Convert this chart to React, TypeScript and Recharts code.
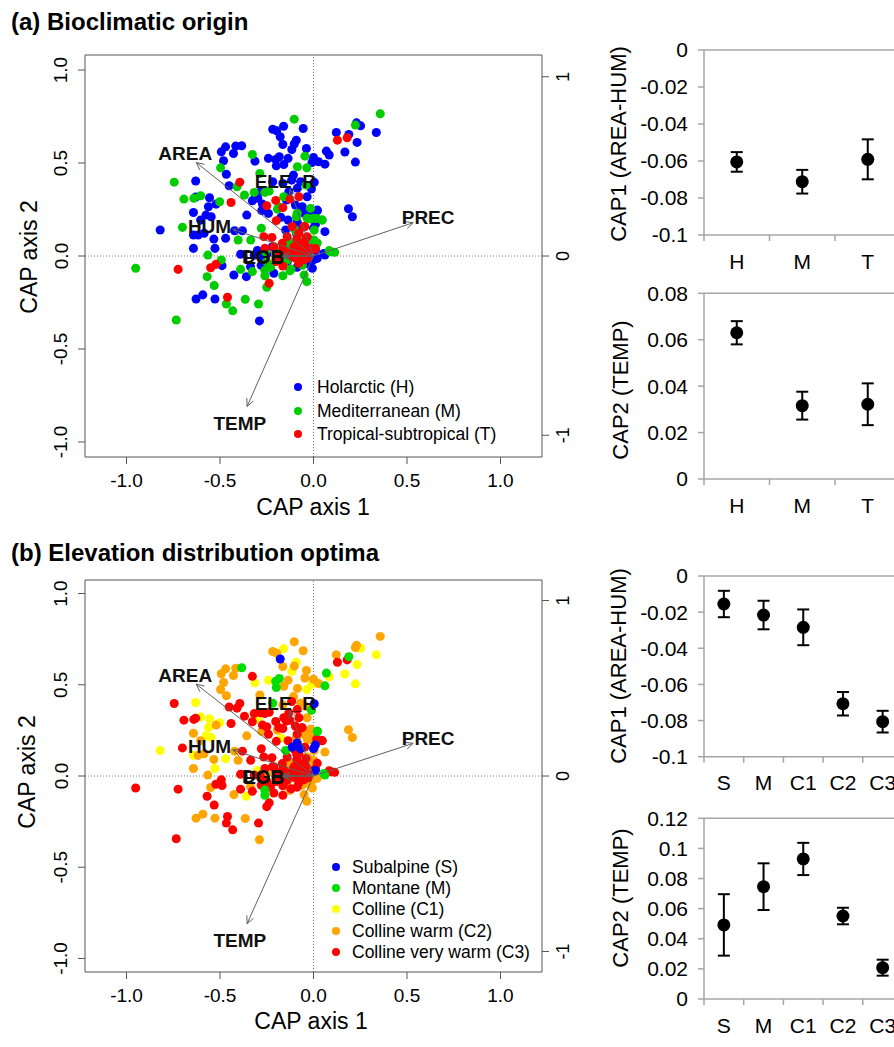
import React from 'react';
import { ScatterChart, Scatter, XAxis, YAxis, ReferenceLine, ErrorBar } from 'recharts';

const FONT = 'Arial, "Liberation Sans", Helvetica, sans-serif';
const BOX = '#555';
const PANEL_GRAY = '#a6a6a6';

// species scores on the two CAP axes: [CAP1, CAP2, bioclimatic origin, elevation optimum]
const SPECIES: [number, number, string, string][] = [
  [0.357, 0.765, 'M', 'C2'], [-0.103, 0.736, 'M', 'C2'], [0.224, 0.704, 'M', 'C2'], [0.23, 0.716, 'H', 'C2'],
  [0.252, 0.7, 'H', 'C1'], [0.336, 0.664, 'H', 'C1'], [0.122, 0.664, 'H', 'C2'], [0.128, 0.623, 'T', 'C3'],
  [0.18, 0.636, 'T', 'C3'], [0.189, 0.654, 'H', 'M'], [0.233, 0.611, 'H', 'C1'], [0.168, 0.559, 'H', 'C1'],
  [0.224, 0.505, 'H', 'C1'], [0.187, 0.254, 'H', 'C2'], [0.208, 0.211, 'H', 'C2'], [-0.218, 0.682, 'H', 'C2'],
  [-0.197, 0.673, 'H', 'C2'], [-0.16, 0.698, 'H', 'C1'], [-0.055, 0.686, 'H', 'C2'], [-0.178, 0.641, 'H', 'S'],
  [-0.164, 0.6, 'H', 'C2'], [-0.092, 0.623, 'H', 'C1'], [-0.103, 0.602, 'H', 'C2'], [-0.116, 0.573, 'H', 'C1'],
  [-0.038, 0.578, 'H', 'C2'], [-0.046, 0.537, 'M', 'C2'], [-0.241, 0.525, 'H', 'C1'], [-0.202, 0.519, 'H', 'M'],
  [-0.183, 0.534, 'H', 'M'], [-0.159, 0.492, 'H', 'C2'], [-0.199, 0.485, 'H', 'M'], [-0.136, 0.525, 'H', 'C2'],
  [-0.47, 0.587, 'H', 'C2'], [-0.416, 0.591, 'H', 'C2'], [-0.384, 0.593, 'H', 'M'], [-0.428, 0.551, 'H', 'C2'],
  [-0.493, 0.56, 'H', 'C2'], [-0.481, 0.512, 'H', 'C2'], [-0.327, 0.546, 'M', 'C3'], [-0.313, 0.51, 'H', 'C1'],
  [-0.287, 0.444, 'M', 'C2'], [0.069, 0.564, 'H', 'M'], [0.084, 0.543, 'H', 'C1'], [0.061, 0.494, 'H', 'M'],
  [0.027, 0.507, 'H', 'C2'], [-0.008, 0.503, 'H', 'C1'], [0.0, 0.53, 'H', 'C2'], [-0.086, 0.48, 'M', 'C2'],
  [-0.036, 0.474, 'M', 'C1'], [-0.497, 0.474, 'M', 'C2'], [-0.466, 0.44, 'H', 'C2'], [-0.63, 0.403, 'H', 'C1'],
  [-0.745, 0.397, 'M', 'C3'], [-0.394, 0.397, 'T', 'C3'], [-0.451, 0.378, 'H', 'C3'], [-0.409, 0.372, 'M', 'C3'],
  [-0.369, 0.328, 'M', 'C3'], [-0.317, 0.342, 'M', 'C3'], [-0.311, 0.319, 'H', 'C1'], [-0.283, 0.346, 'H', 'C3'],
  [-0.26, 0.342, 'M', 'C3'], [-0.237, 0.349, 'M', 'C3'], [-0.218, 0.399, 'H', 'M'], [-0.164, 0.39, 'H', 'C2'],
  [-0.117, 0.408, 'H', 'C3'], [-0.069, 0.399, 'H', 'C2'], [-0.107, 0.435, 'H', 'C2'], [-0.04, 0.381, 'M', 'C2'],
  [-0.011, 0.36, 'H', 'M'], [-0.078, 0.319, 'T', 'C3'], [-0.126, 0.306, 'T', 'C3'], [-0.202, 0.299, 'T', 'C3'],
  [-0.25, 0.27, 'T', 'C3'], [-0.164, 0.26, 'T', 'C3'], [-0.441, 0.288, 'T', 'C3'], [-0.604, 0.324, 'M', 'C1'],
  [-0.64, 0.31, 'M', 'C3'], [-0.693, 0.306, 'M', 'C3'], [-0.63, 0.317, 'H', 'C3'], [-0.556, 0.313, 'H', 'C1'],
  [-0.502, 0.292, 'M', 'C1'], [-0.562, 0.265, 'H', 'C1'], [-0.521, 0.279, 'H', 'C2'], [-0.642, 0.234, 'H', 'C2'],
  [-0.575, 0.22, 'H', 'C1'], [-0.547, 0.211, 'H', 'C1'], [-0.604, 0.193, 'H', 'C2'], [-0.327, 0.297, 'H', 'C3'],
  [-0.298, 0.31, 'H', 'C1'], [-0.273, 0.279, 'H', 'C3'], [-0.277, 0.244, 'H', 'C2'], [-0.241, 0.229, 'H', 'C3'],
  [-0.193, 0.252, 'M', 'C2'], [-0.145, 0.301, 'H', 'C3'], [-0.097, 0.274, 'H', 'C3'], [-0.05, 0.229, 'H', 'C2'],
  [-0.011, 0.238, 'H', 'C2'], [0.021, 0.244, 'H', 'M'], [-0.017, 0.199, 'M', 'C2'], [0.017, 0.202, 'M', 'C3'],
  [0.046, 0.193, 'M', 'C3'], [-0.357, 0.22, 'H', 'C2'], [-0.199, 0.19, 'T', 'C3'], [-0.174, 0.208, 'H', 'C1'],
  [-0.136, 0.193, 'H', 'C3'], [-0.092, 0.211, 'M', 'C2'], [-0.82, 0.14, 'H', 'C1'], [-0.701, 0.154, 'M', 'C3'],
  [-0.642, 0.113, 'H', 'C1'], [-0.617, 0.113, 'H', 'C2'], [-0.585, 0.122, 'H', 'C2'], [-0.533, 0.091, 'H', 'C2'],
  [-0.47, 0.095, 'H', 'C1'], [-0.422, 0.136, 'H', 'C2'], [-0.38, 0.136, 'H', 'C3'], [-0.403, 0.086, 'M', 'C2'],
  [-0.336, 0.086, 'M', 'C3'], [-0.279, 0.149, 'M', 'C3'], [-0.266, 0.104, 'T', 'C3'], [-0.222, 0.1, 'T', 'C3'],
  [-0.149, 0.14, 'H', 'M'], [-0.101, 0.143, 'M', 'C3'], [-0.078, 0.122, 'T', 'C3'], [-0.046, 0.158, 'T', 'C3'],
  [-0.04, 0.095, 'T', 'C3'], [0.004, 0.14, 'M', 'C2'], [0.061, 0.131, 'H', 'C2'], [-0.642, 0.041, 'H', 'C2'],
  [-0.527, 0.041, 'H', 'C1'], [-0.565, 0.005, 'M', 'C2'], [-0.39, 0.009, 'H', 'C3'], [-0.317, 0.005, 'H', 'C3'],
  [-0.26, 0.041, 'T', 'C3'], [-0.164, 0.041, 'T', 'C3'], [-0.117, 0.05, 'M', 'C2'], [-0.05, 0.068, 'T', 'C3'],
  [0.008, 0.036, 'T', 'C3'], [0.061, 0.005, 'H', 'M'], [0.113, 0.02, 'M', 'C3'], [0.084, 0.029, 'M', 'C3'],
  [-0.951, -0.066, 'M', 'C3'], [-0.724, -0.072, 'T', 'C3'], [-0.55, -0.063, 'T', 'C2'], [-0.522, -0.045, 'T', 'C3'],
  [-0.489, -0.052, 'H', 'C3'], [-0.569, -0.111, 'M', 'C3'], [-0.531, -0.159, 'M', 'C3'], [-0.493, -0.021, 'M', 'C3'],
  [-0.426, -0.102, 'H', 'C2'], [-0.39, -0.072, 'M', 'C3'], [-0.359, -0.111, 'H', 'C1'], [-0.327, -0.084, 'M', 'C3'],
  [-0.26, -0.106, 'M', 'M'], [-0.212, -0.093, 'H', 'C3'], [-0.164, -0.054, 'T', 'C3'], [-0.164, -0.106, 'M', 'C3'],
  [-0.126, -0.079, 'M', 'C2'], [-0.088, -0.061, 'H', 'C3'], [-0.05, -0.102, 'M', 'C2'], [-0.006, -0.066, 'H', 'C2'],
  [-0.036, -0.138, 'M', 'C2'], [-0.25, -0.168, 'M', 'C3'], [-0.237, -0.147, 'T', 'C3'], [-0.628, -0.231, 'H', 'C2'],
  [-0.592, -0.209, 'H', 'C2'], [-0.527, -0.231, 'H', 'C2'], [-0.46, -0.222, 'T', 'C3'], [-0.466, -0.258, 'M', 'C3'],
  [-0.432, -0.295, 'M', 'C3'], [-0.365, -0.233, 'M', 'C2'], [-0.294, -0.258, 'M', 'C3'], [-0.289, -0.349, 'H', 'C2'],
  [-0.734, -0.344, 'M', 'C3'],
  // dense cluster around the origin
  [-0.07, 0.15, 'H', 'S'], [0.0, 0.15, 'H', 'S'], [0.01, 0.17, 'H', 'S'], [0.01, 0.03, 'H', 'S'],
  [-0.088, 0.181, 'H', 'S'], [0.004, 0.396, 'H', 'S'], [-0.26, -0.077, 'M', 'M'],
  [-0.15, 0.02, 'T', 'C3'], [-0.12, 0.0, 'T', 'C3'], [-0.1, -0.01, 'T', 'C3'], [-0.08, 0.02, 'T', 'C3'],
  [-0.06, 0.0, 'T', 'C3'], [-0.05, -0.02, 'T', 'C3'], [-0.03, 0.01, 'T', 'C3'], [-0.02, 0.03, 'T', 'C2'],
  [-0.04, 0.05, 'T', 'C3'], [-0.07, 0.06, 'T', 'C3'], [0.01, 0.04, 'T', 'C3'], [-0.09, 0.09, 'T', 'C3'],
  [-0.2, -0.03, 'T', 'C3'], [-0.18, 0.0, 'T', 'C3'], [-0.11, 0.03, 'T', 'C3'], [-0.03, -0.01, 'T', 'C3'],
  [-0.2, 0.02, 'M', 'C3'], [-0.13, 0.07, 'M', 'C2'], [-0.1, 0.04, 'M', 'C3'], [-0.05, 0.08, 'M', 'C2'],
  [-0.02, 0.09, 'M', 'C2'], [0.02, 0.07, 'M', 'C3'], [-0.25, -0.03, 'M', 'C3'], [-0.16, -0.04, 'M', 'C3'],
  [-0.06, -0.05, 'M', 'C2'], [-0.12, -0.07, 'M', 'C3'], [-0.23, -0.06, 'M', 'C3'],
  [-0.28, -0.05, 'H', 'C3'], [-0.22, 0.05, 'H', 'C3'], [-0.14, -0.03, 'H', 'C2'], [-0.03, -0.04, 'H', 'C2'],
  [0.0, -0.02, 'H', 'C2'], [-0.09, 0.12, 'H', 'C3'], [-0.25, 0.01, 'H', 'C2'], [-0.3, 0.03, 'H', 'C1'],
  [-0.132, 0.346, 'H', 'C3'], [-0.087, 0.364, 'H', 'C3'], [-0.034, 0.319, 'H', 'C2'], [-0.06, 0.265, 'H', 'C3'],
  [-0.016, 0.256, 'M', 'C2'], [0.02, 0.247, 'H', 'M'], [-0.159, 0.319, 'M', 'C3'], [-0.186, 0.265, 'M', 'C3'],
  [-0.087, 0.23, 'M', 'C3'], [-0.034, 0.203, 'M', 'C2'], [0.002, 0.203, 'M', 'C2'], [0.046, 0.194, 'M', 'C3'],
  [-0.114, 0.158, 'T', 'S'], [-0.052, 0.158, 'T', 'C2'], [-0.087, 0.122, 'M', 'C3'], [-0.034, 0.104, 'T', 'C2'],
  [0.002, 0.086, 'M', 'C2'], [-0.141, 0.104, 'T', 'C3'], [-0.167, 0.068, 'T', 'C3'], [-0.105, 0.05, 'T', 'C3'],
  [-0.052, 0.032, 'T', 'C3'], [-0.016, 0.041, 'T', 'C2'], [0.055, 0.014, 'H', 'M'], [0.091, 0.023, 'M', 'C3'],
  [-0.212, 0.05, 'T', 'C3'], [-0.257, 0.023, 'M', 'C2'], [-0.283, -0.004, 'H', 'C3'], [-0.186, -0.004, 'T', 'C3'],
  [-0.141, -0.022, 'M', 'C3'], [-0.079, -0.039, 'T', 'C3'], [-0.034, -0.004, 'T', 'C3'], [0.02, -0.013, 'H', 'C2'],
  [-0.337, -0.057, 'H', 'C2'], [-0.239, -0.057, 'M', 'C3'],
];

const ORIGIN_GROUPS = [
  { key: 'H', label: 'Holarctic (H)', color: '#0000ff' },
  { key: 'M', label: 'Mediterranean (M)', color: '#00cc00' },
  { key: 'T', label: 'Tropical-subtropical (T)', color: '#ff0000' },
];
const ELEV_GROUPS = [
  { key: 'S', label: 'Subalpine (S)', color: '#0000ff' },
  { key: 'M', label: 'Montane (M)', color: '#00dd00' },
  { key: 'C1', label: 'Colline (C1)', color: '#ffff00' },
  { key: 'C2', label: 'Colline warm (C2)', color: '#ffa500' },
  { key: 'C3', label: 'Colline very warm (C3)', color: '#ff0000' },
];
const ELEV_DRAW_ORDER = ['C1', 'C2', 'C3', 'M', 'S'];

// environmental vectors: arrow tip and label centre
const VECTORS = [
  { name: 'AREA', x: -0.627, y: 0.503, lx: -0.686, ly: 0.551 },
  { name: 'ELE_R', x: -0.126, y: 0.358, lx: -0.151, ly: 0.399 },
  { name: 'HUM', x: -0.432, y: 0.143, lx: -0.556, ly: 0.161 },
  { name: 'PREC', x: 0.533, y: 0.179, lx: 0.613, ly: 0.208 },
  { name: 'TEMP', x: -0.355, y: -0.809, lx: -0.394, ly: -0.899 },
  { name: 'DGB', x: -0.165, y: 0.004, lx: -0.27, ly: -0.004 },
  { name: 'EOB', x: -0.165, y: -0.004, lx: -0.266, ly: -0.007 },
];

const X_TICKS = [-1, -0.5, 0, 0.5, 1];
const Y_TICKS = [-1, -0.5, 0, 0.5, 1];
const SEC_TICKS = [-1, 0, 1];

const ORIGIN_CATS = ['H', 'M', 'T'];
const CAP1_ORIGIN = [-0.0605, -0.0712, -0.0591];
const CAP1_ORIGIN_ERR = [0.0053, 0.0064, 0.0108];
const CAP2_ORIGIN = [0.063, 0.0316, 0.0322];
const CAP2_ORIGIN_ERR = [0.005, 0.006, 0.009];

const ELEV_CATS = ['S', 'M', 'C1', 'C2', 'C3'];
const CAP1_ELEV = [-0.0155, -0.0216, -0.0284, -0.0707, -0.0806];
const CAP1_ELEV_ERR = [0.0073, 0.0079, 0.0099, 0.0065, 0.006];
const CAP2_ELEV = [0.0492, 0.0746, 0.093, 0.0551, 0.0208];
const CAP2_ELEV_ERR = [0.0204, 0.0155, 0.0107, 0.0055, 0.0053];

const LeftTick = (p: any) => (
  <text x={p.x} y={p.y} transform={`rotate(-90 ${p.x} ${p.y})`} textAnchor="middle" dominantBaseline="central"
    fontSize={19} fontFamily={FONT} fill="#000">{Number(p.payload.value).toFixed(1)}</text>
);
const RightTick = (p: any) => (
  <text x={p.x} y={p.y} transform={`rotate(-90 ${p.x} ${p.y})`} textAnchor="middle" dominantBaseline="central"
    fontSize={18} fontFamily={FONT} fill="#000">{String(p.payload.value)}</text>
);
const BottomTick = (p: any) => (
  <text x={p.x} y={p.y} textAnchor="middle" dominantBaseline="central" fontSize={19} fontFamily={FONT} fill="#000">
    {Number(p.payload.value).toFixed(1)}
  </text>
);
const NoDot = () => <g />;
const VectorLabel = (p: any) => (
  <text x={p.cx} y={p.cy} textAnchor="middle" dominantBaseline="central" fontSize={19}
    fontWeight="bold" fontFamily={FONT} fill="#111">{p.payload.name}</text>
);

function arrowHead(x: number, y: number) {
  const a = Math.atan2(y, x);
  const len = 0.045;
  const [h1, h2] = [a + 0.45, a - 0.45].map((b) => ({ x: x - len * Math.cos(b), y: y - len * Math.sin(b) }));
  return [h1, { x, y }, h2];
}

function Biplot({ top, height, boxTop, boxBottom, yDom, ryDom, col, groups, order }: any) {
  const margin = { left: 25, right: 18, top: boxTop - top - 10, bottom: top + height - boxBottom - 40 };
  const ids = { xAxisId: 'b', yAxisId: 'l' };
  const arrowLine = { stroke: '#606060', strokeWidth: 1 };
  return (
    <div style={{ position: 'absolute', left: 0, top }}>
      <ScatterChart width={600} height={height} margin={margin}>
        <XAxis xAxisId="b" type="number" dataKey="x" domain={[-1.222, 1.222]} ticks={X_TICKS} interval={0}
          allowDataOverflow height={40} tickSize={7} tickMargin={16} stroke={BOX} tick={BottomTick} />
        <XAxis xAxisId="t" orientation="top" type="number" domain={[-1.27, 1.27]} ticks={SEC_TICKS} interval={0}
          allowDataOverflow height={10} tickSize={7} stroke={BOX} tick={() => <g />} />
        <YAxis yAxisId="l" type="number" dataKey="y" domain={yDom} ticks={Y_TICKS} interval={0}
          allowDataOverflow width={60} tickSize={7} tickMargin={17} stroke={BOX} tick={LeftTick} />
        <YAxis yAxisId="r" orientation="right" type="number" domain={ryDom} ticks={SEC_TICKS} interval={0}
          allowDataOverflow width={40} tickSize={7} tickMargin={14} stroke={BOX} tick={RightTick} />
        <ReferenceLine {...ids} x={0} stroke="#777" strokeDasharray="1 2" />
        <ReferenceLine {...ids} y={0} stroke="#777" strokeDasharray="1 2" />
        {order.map((k: string) => {
          const g = groups.find((gg: any) => gg.key === k);
          const data = SPECIES.filter((s) => s[col] === k).map((s) => ({ x: s[0], y: s[1] }));
          return <Scatter key={k} {...ids} data={data} fill={g.color} isAnimationActive={false} />;
        })}
        {VECTORS.map((v) => (
          <Scatter key={'v' + v.name} {...ids} data={[{ x: 0, y: 0 }, { x: v.x, y: v.y }]} line={arrowLine}
            shape={NoDot} isAnimationActive={false} />
        ))}
        {VECTORS.map((v) => (
          <Scatter key={'h' + v.name} {...ids} data={arrowHead(v.x, v.y)} line={arrowLine}
            shape={NoDot} isAnimationActive={false} />
        ))}
        <Scatter {...ids} data={VECTORS.map((v) => ({ x: v.lx, y: v.ly, name: v.name }))} shape={VectorLabel}
          isAnimationActive={false} />
      </ScatterChart>
    </div>
  );
}

function Legend({ groups, dotX, textX, y0, step }: any) {
  return (
    <>
      {groups.map((g: any, i: number) => (
        <React.Fragment key={g.key}>
          <div style={{ position: 'absolute', left: dotX - 4, top: y0 + i * step - 4, width: 8, height: 8, borderRadius: 4, background: g.color }} />
          <div style={{ position: 'absolute', left: textX, top: y0 + i * step, transform: 'translateY(-50%)', fontSize: 17.5, whiteSpace: 'nowrap', color: '#000' }}>
            {g.label}
          </div>
        </React.Fragment>
      ))}
    </>
  );
}

function MeanPanel({ top, height, plotTop, plotBottom, plotRight, cats, means, errs, domain, ticks }: any) {
  const left = 600, width = 320, yW = 80, xH = 40;
  const data = cats.map((c: string, i: number) => ({ pos: i + 0.5, mean: means[i], err: errs[i] }));
  const catTicks: number[] = [];
  for (let i = 0; i <= cats.length * 2; i++) catTicks.push(i / 2);
  const CatTick = (p: any) => {
    const v = Number(p.payload.value);
    if (Number.isInteger(v)) return <line x1={p.x} y1={p.y} x2={p.x} y2={p.y + 6} stroke={PANEL_GRAY} strokeWidth={1.5} />;
    return (
      <text x={p.x} y={p.y + 26} textAnchor="middle" dominantBaseline="central" fontSize={21} fontFamily={FONT} fill="#000">
        {cats[Math.floor(v)]}
      </text>
    );
  };
  return (
    <div style={{ position: 'absolute', left, top }}>
      <ScatterChart width={width} height={height}
        margin={{ top: plotTop - top, bottom: top + height - plotBottom - xH, left: 704 - left - yW, right: left + width - plotRight }}>
        <XAxis type="number" dataKey="pos" domain={[0, cats.length]} ticks={catTicks} interval={0} allowDataOverflow
          height={xH} tickLine={false} tickSize={0} tickMargin={0} axisLine={{ stroke: PANEL_GRAY, strokeWidth: 1.5 }} tick={CatTick} />
        <YAxis type="number" dataKey="mean" domain={domain} ticks={ticks} interval={0} allowDataOverflow width={yW}
          tickSize={6} tickMargin={10} axisLine={{ stroke: PANEL_GRAY, strokeWidth: 1.5 }} tickLine={{ stroke: PANEL_GRAY, strokeWidth: 1.5 }}
          tick={{ fill: '#000', fontSize: 21, fontFamily: FONT }} tickFormatter={(v: number) => String(+v.toFixed(2))} />
        <ReferenceLine y={domain[1]} stroke={PANEL_GRAY} strokeWidth={1.5} />
        <Scatter data={data} isAnimationActive={false}
          shape={(p: any) => <circle cx={p.cx} cy={p.cy} r={6.5} fill="#000" />}>
          <ErrorBar dataKey="err" direction="y" width={6} stroke="#000" strokeWidth={2} />
        </Scatter>
      </ScatterChart>
    </div>
  );
}

const label = (text: string, cx: number, cy: number, size: number, rotate = false) => (
  <div style={{
    position: 'absolute', left: cx, top: cy, fontSize: size, whiteSpace: 'nowrap',
    transform: `translate(-50%, -50%)${rotate ? ' rotate(-90deg)' : ''}`, color: '#000', lineHeight: 1,
  }}>{text}</div>
);

export default function App() {
  return (
    <div style={{ position: 'absolute', left: 0, top: 0, width: 894, height: 1047, overflow: 'hidden', background: '#fff', fontFamily: FONT }}>
      <div style={{ position: 'absolute', left: 11, top: 22, transform: 'translateY(-50%)', fontSize: 24, fontWeight: 'bold', lineHeight: 1 }}>
        (a) Bioclimatic origin
      </div>
      <div style={{ position: 'absolute', left: 11, top: 553, transform: 'translateY(-50%)', fontSize: 24, fontWeight: 'bold', lineHeight: 1 }}>
        (b) Elevation distribution optima
      </div>

      <Biplot top={0} height={520} boxTop={55} boxBottom={457} yDom={[-1.081, 1.081]} ryDom={[-1.121, 1.121]}
        col={2} groups={ORIGIN_GROUPS} order={['H', 'M', 'T']} />
      <Biplot top={520} height={527} boxTop={580} boxBottom={972} yDom={[-1.074, 1.074]} ryDom={[-1.117, 1.117]}
        col={3} groups={ELEV_GROUPS} order={ELEV_DRAW_ORDER} />

      <Legend groups={ORIGIN_GROUPS} dotX={298} textX={317} y0={387} step={23.5} />
      <Legend groups={ELEV_GROUPS} dotX={336} textX={352} y0={867} step={21.2} />

      {label('CAP axis 2', 29, 257, 23, true)}
      {label('CAP axis 1', 313, 507, 23)}
      {label('CAP axis 2', 27, 772, 23, true)}
      {label('CAP axis 1', 311, 1021, 23)}

      <MeanPanel top={0} height={290} plotTop={50} plotBottom={235} plotRight={900.5} cats={ORIGIN_CATS}
        means={CAP1_ORIGIN} errs={CAP1_ORIGIN_ERR} domain={[-0.1, 0]} ticks={[-0.1, -0.08, -0.06, -0.04, -0.02, 0]} />
      <MeanPanel top={270} height={250} plotTop={293.3} plotBottom={479} plotRight={900.5} cats={ORIGIN_CATS}
        means={CAP2_ORIGIN} errs={CAP2_ORIGIN_ERR} domain={[0, 0.08]} ticks={[0, 0.02, 0.04, 0.06, 0.08]} />
      <MeanPanel top={540} height={270} plotTop={576} plotBottom={756.7} plotRight={902.5} cats={ELEV_CATS}
        means={CAP1_ELEV} errs={CAP1_ELEV_ERR} domain={[-0.1, 0]} ticks={[-0.1, -0.08, -0.06, -0.04, -0.02, 0]} />
      <MeanPanel top={790} height={257} plotTop={818.3} plotBottom={999} plotRight={902.5} cats={ELEV_CATS}
        means={CAP2_ELEV} errs={CAP2_ELEV_ERR} domain={[0, 0.12]} ticks={[0, 0.02, 0.04, 0.06, 0.08, 0.1, 0.12]} />

      {label('CAP1 (AREA-HUM)', 619, 144, 22, true)}
      {label('CAP2 (TEMP)', 621, 390, 22, true)}
      {label('CAP1 (AREA-HUM)', 619, 666, 22, true)}
      {label('CAP2 (TEMP)', 621, 898, 22, true)}
    </div>
  );
}
